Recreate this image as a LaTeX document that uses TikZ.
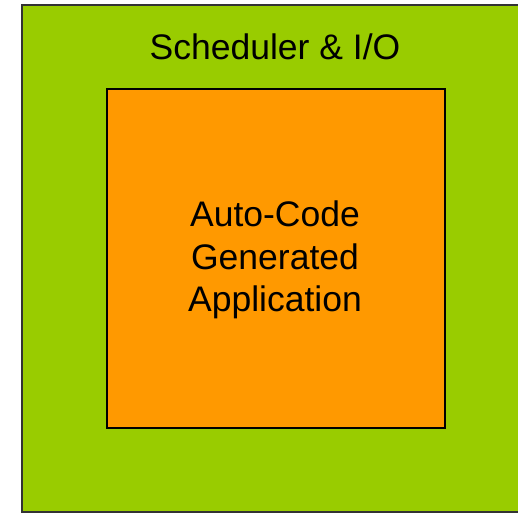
\documentclass[tikz,border=0pt]{standalone}
\usepackage{fontspec}
\setmainfont{Liberation Sans}
\definecolor{schedgreen}{HTML}{99CC00}
\definecolor{apporange}{HTML}{FF9900}
\tikzset{
  layer/.style={draw=black!80, line width=2pt},
  caption/.style={font=\fontsize{35.5}{42.5}\selectfont, align=center}
}
\begin{document}
\begin{tikzpicture}[x=1pt,y=-1pt]
      \useasboundingbox (0,0) rectangle (518,516);
      \draw[layer, fill=schedgreen] (22,5) rectangle (530,512);
      \draw[layer, draw=black, line width=2.5pt, fill=apporange] (107,89) rectangle (445,428);
      \node[caption] (sched) at (275,47) {Scheduler \& I/O};
      \node[caption] (app) at (275,260) {Auto-Code\\Generated\\Application};
    \end{tikzpicture}
\end{document}
